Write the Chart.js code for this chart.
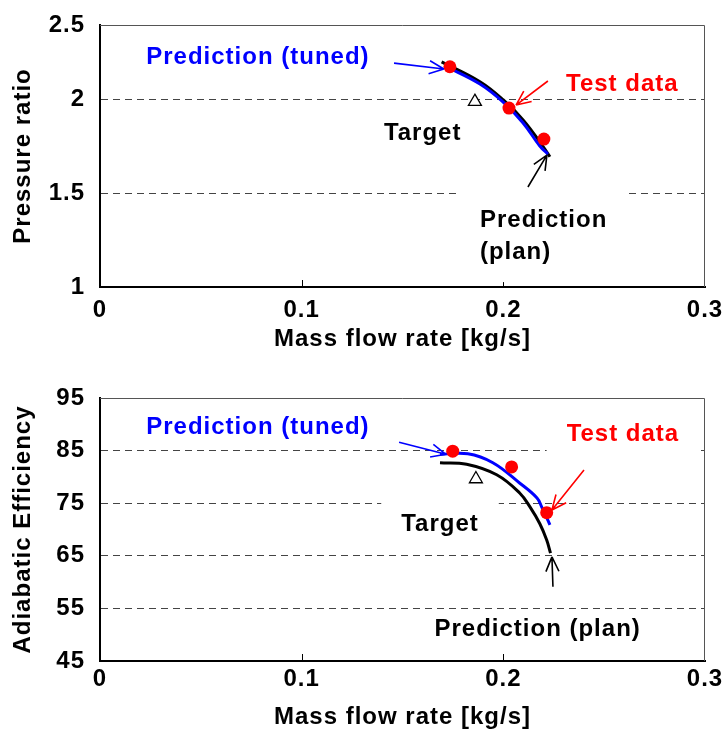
<!DOCTYPE html>
<html>
<head>
<meta charset="utf-8">
<script src="https://cdn.jsdelivr.net/npm/chart.js@4.4.1/dist/chart.umd.min.js"></script>
<style>
  html, body { margin: 0; padding: 0; background: #fff; overflow: hidden; }
  #top { position: absolute; left: 0; top: 0; }
  #bottom { position: absolute; left: 0; top: 360px; }
</style>
</head>
<body>
<canvas id="top" width="722" height="360"></canvas>
<canvas id="bottom" width="722" height="373"></canvas>
<script>
// x axis (both plots)
var flowTicks = [0, 0.1, 0.2, 0.3];
var flowTickLabels = ['0', '0.1', '0.2', '0.3'];

// pressure ratio plot (frame top sits a little under 2.5 in the source)
var prTicks = [1, 1.5, 2, 2.394];
var prTickLabels = ['1', '1.5', '2', '2.5'];
var prPlanFlow = [0.1694, 0.1884, 0.2000, 0.2099, 0.2198, 0.2231];
var prPlan = [2.198, 2.092, 1.995, 1.888, 1.746, 1.693];
var prTunedFlow = [0.1710, 0.1884, 0.1998, 0.2097, 0.2181, 0.2221];
var prTuned = [2.176, 2.080, 1.985, 1.874, 1.750, 1.707];
var prTestFlow = [0.1735, 0.2028, 0.2201];
var prTest = [2.172, 1.952, 1.787];
var prTargetFlow = [0.1859];
var prTarget = [1.986];

// efficiency plot
var effTicks = [45, 55, 65, 75, 85, 95];
var effTickLabels = ['45', '55', '65', '75', '85', '95'];
var effPlanFlow = [0.1686, 0.1818, 0.1967, 0.2082, 0.2132, 0.2181, 0.2215, 0.2234];
var effPlan = [82.7, 82.4, 80.4, 76.9, 74.3, 71.1, 68.0, 65.5];
var effTunedFlow = [0.1686, 0.1824, 0.1948, 0.2082, 0.2167, 0.2190, 0.2231];
var effTuned = [84.3, 84.4, 82.7, 78.8, 76.0, 74.3, 70.9];
var effTestFlow = [0.1749, 0.2041, 0.2215];
var effTest = [84.9, 81.9, 73.2];
var effTargetFlow = [0.1864];
var effTarget = [79.6];

var FONT = '"Liberation Sans", Arial, sans-serif';
Chart.defaults.font.family = FONT;
Chart.defaults.font.size = 24;
Chart.defaults.font.weight = 'bold';
Chart.defaults.color = '#000';

function pts(xs, ys) {
  return xs.map(function(x, i) { return { x: x, y: ys[i] }; });
}

// slightly spaced letters like the source figure
var spacing = {
  id: 'spacing',
  beforeUpdate: function(chart) { chart.ctx.letterSpacing = '1px'; },
  beforeDraw: function(chart) { chart.ctx.letterSpacing = '1px'; }
};

var notes = {
  id: 'notes',
  beforeDatasetsDraw: function(chart, args, opts) {
    var ctx = chart.ctx, a = chart.chartArea;
    var xs = chart.scales.x, ys = chart.scales.y;
    ctx.save();
    // frame top + right
    ctx.strokeStyle = '#555';
    ctx.lineWidth = 1;
    ctx.beginPath();
    ctx.moveTo(a.left, a.top + 0.5);
    ctx.lineTo(a.right - 0.5, a.top + 0.5);
    ctx.lineTo(a.right - 0.5, a.bottom);
    ctx.stroke();
    // small inward ticks on the x axis
    ctx.strokeStyle = '#000';
    flowTicks.slice(1, -1).forEach(function(v) {
      var px = Math.round(xs.getPixelForValue(v)) + 0.5;
      ctx.beginPath();
      ctx.moveTo(px, a.bottom);
      ctx.lineTo(px, a.bottom - 7);
      ctx.stroke();
    });
    // text boxes
    ctx.font = 'bold 24px ' + FONT;
    ctx.letterSpacing = '1px';
    ctx.textBaseline = 'middle';
    opts.texts.forEach(function(t) {
      var x = xs.getPixelForValue(t.x), y = ys.getPixelForValue(t.y);
      var lines = t.text.split('\n');
      var w = Math.max.apply(null, lines.map(function(l) { return ctx.measureText(l).width; }));
      var left = t.align === 'left' ? x : x - w / 2;
      if (t.box) {
        ctx.save();
        ctx.beginPath();
        ctx.rect(a.left + 2, a.top + 2, a.right - a.left - 4, a.bottom - a.top - 4);
        ctx.clip();
        ctx.fillStyle = '#fff';
        ctx.fillRect(left - 20, y - t.box, w + 40, 2 * t.box + (lines.length - 1) * 32);
        ctx.restore();
      }
      ctx.fillStyle = t.color;
      ctx.textAlign = t.align || 'center';
      lines.forEach(function(l, i) { ctx.fillText(l, x, y + i * 32); });
    });
    ctx.restore();
  },
  afterDatasetsDraw: function(chart, args, opts) {
    var ctx = chart.ctx, xs = chart.scales.x, ys = chart.scales.y;
    ctx.save();
    ctx.lineWidth = 1.6;
    opts.arrows.forEach(function(ar) {
      var x0 = xs.getPixelForValue(ar.from[0]), y0 = ys.getPixelForValue(ar.from[1]);
      var x1 = xs.getPixelForValue(ar.to[0]), y1 = ys.getPixelForValue(ar.to[1]);
      var ang = Math.atan2(y1 - y0, x1 - x0);
      ctx.strokeStyle = ar.color;
      ctx.beginPath();
      ctx.moveTo(x0, y0);
      ctx.lineTo(x1, y1);
      [-0.42, 0.42].forEach(function(d) {
        ctx.moveTo(x1, y1);
        ctx.lineTo(x1 - 16 * Math.cos(ang + d), y1 - 16 * Math.sin(ang + d));
      });
      ctx.stroke();
    });
    ctx.restore();
  }
};

function makeChart(id, cfg) {
  var lastIdx = cfg.yTicks.length - 1;
  return new Chart(document.getElementById(id), {
    type: 'scatter',
    data: {
      datasets: [
        { label: 'Test data', data: pts(cfg.testX, cfg.testY), order: 0,
          pointStyle: 'circle', pointRadius: 6.5, backgroundColor: '#ff0000', borderWidth: 0 },
        { label: 'Target', data: pts(cfg.targetX, cfg.targetY), order: 1,
          pointStyle: 'triangle', pointRadius: 7.5, backgroundColor: '#fff', borderColor: '#000', borderWidth: 1.3 },
        { label: 'Prediction (tuned)', data: pts(cfg.tunedX, cfg.tunedY), order: 2, showLine: true,
          borderColor: '#0000ff', borderWidth: 3, pointRadius: 0, tension: 0.4 },
        { label: 'Prediction (plan)', data: pts(cfg.planX, cfg.planY), order: 3, showLine: true,
          borderColor: '#000', borderWidth: 3, pointRadius: 0, tension: 0.4 }
      ]
    },
    options: {
      responsive: false,
      animation: false,
      layout: { padding: { top: cfg.padTop, right: 17, left: 0, bottom: 0 } },
      plugins: {
        legend: { display: false },
        tooltip: { enabled: false },
        notes: { texts: cfg.texts, arrows: cfg.arrows }
      },
      scales: {
        x: {
          type: 'linear', min: 0, max: 0.3,
          afterBuildTicks: function(s) { s.ticks = flowTicks.map(function(v) { return { value: v }; }); },
          ticks: { padding: cfg.xTickPad, maxRotation: 0, autoSkip: false,
            callback: function(v, i) { return flowTickLabels[i]; } },
          grid: { drawOnChartArea: false, drawTicks: false },
          border: { display: true, color: '#000', width: 2 },
          title: { display: true, text: 'Mass flow rate [kg/s]', padding: { top: 0, bottom: cfg.xTitlePad } },
          afterFit: function(s) { s.height = cfg.xHeight; s.paddingLeft = 0; s.paddingRight = 0; }
        },
        y: {
          type: 'linear', min: cfg.yTicks[0], max: cfg.yTicks[lastIdx],
          afterBuildTicks: function(s) { s.ticks = cfg.yTicks.map(function(v) { return { value: v }; }); },
          ticks: { padding: 15, autoSkip: false,
            callback: function(v, i) { return cfg.yTickLabels[i]; } },
          grid: {
            drawTicks: false, lineWidth: 1,
            color: function(c) { return (c.index === 0 || c.index === lastIdx) ? 'rgba(0,0,0,0)' : '#444'; }
          },
          border: { display: true, color: '#000', width: 2, dash: [7, 5] },
          title: { display: true, text: cfg.yTitle, padding: { top: 9, bottom: 0 } },
          afterFit: function(s) { s.width = 100; s.paddingTop = 0; s.paddingBottom = 0; }
        }
      }
    },
    plugins: [spacing, notes]
  });
}

makeChart('top', {
  padTop: 25, xHeight: 73, xTickPad: 9, xTitlePad: 6,
  yTicks: prTicks, yTickLabels: prTickLabels, yTitle: 'Pressure ratio',
  planX: prPlanFlow, planY: prPlan, tunedX: prTunedFlow, tunedY: prTuned,
  testX: prTestFlow, testY: prTest, targetX: prTargetFlow, targetY: prTarget,
  texts: [
    { text: 'Prediction (tuned)', color: '#0000ff', x: 0.0783, y: 2.223 },
    { text: 'Test data', color: '#ff0000', x: 0.259, y: 2.08 },
    { text: 'Target', color: '#000', x: 0.160, y: 1.819 },
    { text: 'Prediction\n(plan)', color: '#000', x: 0.1884, y: 1.356, align: 'left', box: 30 }
  ],
  arrows: [
    { color: '#0000ff', from: [0.1458, 2.191], to: [0.1705, 2.160] },
    { color: '#ff0000', from: [0.2221, 2.096], to: [0.2063, 1.968] },
    { color: '#000', from: [0.2122, 1.532], to: [0.2216, 1.702] }
  ]
});

makeChart('bottom', {
  padTop: 38, xHeight: 72, xTickPad: 4, xTitlePad: 1,
  yTicks: effTicks, yTickLabels: effTickLabels, yTitle: 'Adiabatic Efficiency',
  planX: effPlanFlow, planY: effPlan, tunedX: effTunedFlow, tunedY: effTuned,
  testX: effTestFlow, testY: effTest, targetX: effTargetFlow, targetY: effTarget,
  texts: [
    { text: 'Prediction (tuned)', color: '#0000ff', x: 0.0783, y: 89.5 },
    { text: 'Test data', color: '#ff0000', x: 0.2593, y: 88.0, box: 24 },
    { text: 'Target', color: '#000', x: 0.1686, y: 70.9, box: 24 },
    { text: 'Prediction (plan)', color: '#000', x: 0.217, y: 51.1 }
  ],
  arrows: [
    { color: '#0000ff', from: [0.1483, 86.6], to: [0.1715, 84.3] },
    { color: '#ff0000', from: [0.2400, 81.3], to: [0.2241, 73.7] },
    { color: '#000', from: [0.2246, 59.1], to: [0.2241, 64.8] }
  ]
});
</script>
</body>
</html>
